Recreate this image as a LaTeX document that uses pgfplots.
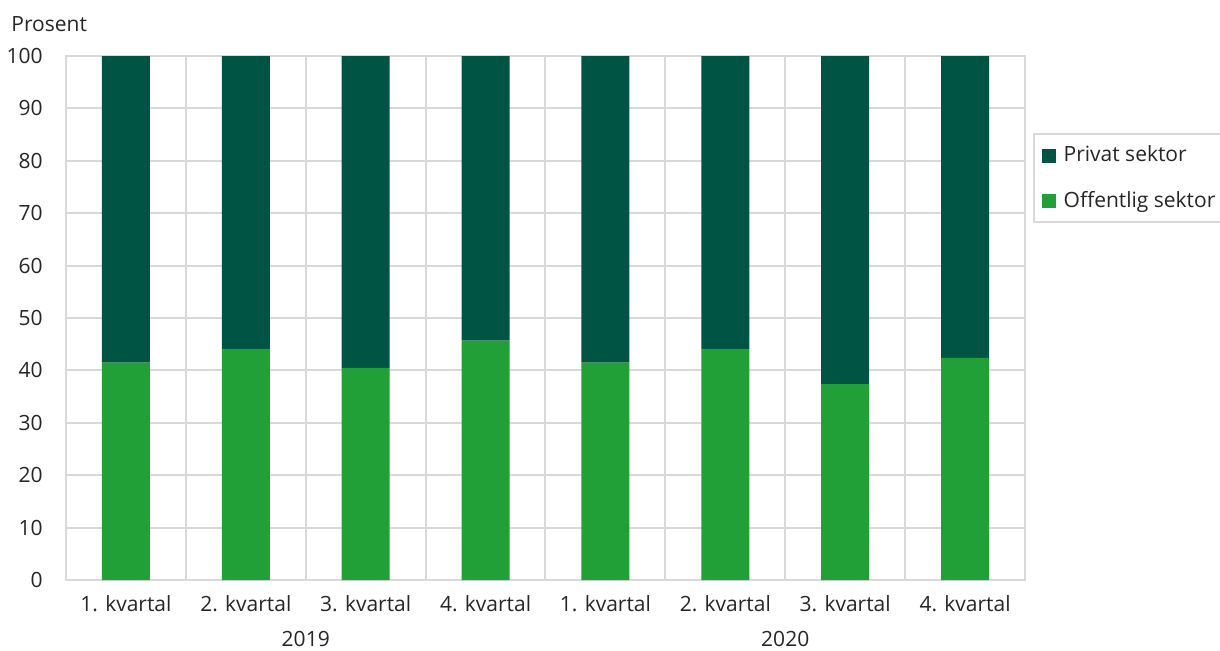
\documentclass[border=0pt]{standalone}
\usepackage{fontspec}
\setmainfont{Open Sans}
\usepackage{pgfplots}
\pgfplotsset{compat=1.18}
\definecolor{privat}{RGB}{0,84,68}
\definecolor{offentlig}{RGB}{33,160,56}
\definecolor{gridgray}{RGB}{217,217,217}
\begin{document}
\fontsize{10.5}{12.6}\selectfont
\begin{tikzpicture}
\path[use as bounding box] (0,0) rectangle (610pt,325pt);
\begin{axis}[
  at={(33pt,35pt)}, anchor=south west,
  scale only axis, width=479.5pt, height=262pt,
  ybar stacked, bar width=0.4,
  xmin=-0.5, xmax=7.5, ymin=0, ymax=100,
  xtick={0,...,7},
  xticklabels={1. kvartal,2. kvartal,3. kvartal,4. kvartal,1. kvartal,2. kvartal,3. kvartal,4. kvartal},
  minor xtick={-0.5,0.5,...,7.5},
  ytick={0,10,...,100},
  xmajorgrids=false, xminorgrids=true, ymajorgrids=true,
  grid style={gridgray, line width=1pt},
  minor grid style={gridgray, line width=1pt},
  axis line style={gridgray, line width=1pt},
  major tick length=0pt, minor tick length=0pt,
  /pgf/number format/assume math mode=true,
  tick label style={font=\fontsize{10.5}{12.6}\selectfont, text=black!85},
  yticklabel style={xshift=-8pt},
  xticklabel style={yshift=-4pt},
  clip=false,
  reverse legend,
  legend cell align=left,
  legend style={at={(1.008,0.853)}, anchor=north west, draw=gridgray, line width=1pt,
    font=\fontsize{10.5}{12.6}\selectfont, text=black!85, row sep=9pt, inner sep=4pt,
    /tikz/every odd column/.append style={column sep=2pt}},
  legend image code/.code={\fill[#1] (-1pt,-3.5pt) rectangle (6pt,3.5pt);},
]
\addplot[fill=offentlig, draw=none] coordinates {(0,41.5)(1,44.1)(2,40.5)(3,45.7)(4,41.5)(5,44.1)(6,37.4)(7,42.4)};
\addplot[fill=privat, draw=none] coordinates {(0,58.5)(1,55.9)(2,59.5)(3,54.3)(4,58.5)(5,55.9)(6,62.6)(7,57.6)};
\legend{Offentlig sektor, Privat sektor}
\node[anchor=west, text=black!85] at (rel axis cs:0,1) [xshift=-31pt, yshift=16pt] {Prosent};
\node[text=black!85] at (axis cs:1.5,0) [yshift=-29.5pt] {2019};
\node[text=black!85] at (axis cs:5.5,0) [yshift=-29.5pt] {2020};
\end{axis}
\end{tikzpicture}
\end{document}
